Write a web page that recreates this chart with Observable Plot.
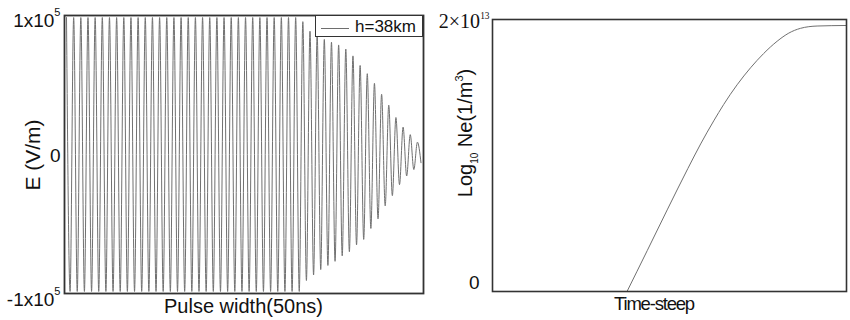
<!DOCTYPE html>
<html>
<head>
<meta charset="utf-8">
<script src="https://cdn.jsdelivr.net/npm/d3@7"></script>
<script src="https://cdn.jsdelivr.net/npm/@observablehq/plot@0.6"></script>
<style>
  body { margin: 0; background: #fff; }
  #wrap { position: relative; width: 850px; height: 320px; overflow: hidden; background: #fff;
          font-family: 'Liberation Sans', Arial, Helvetica, sans-serif; color: #111; }
  #left, #right { position: absolute; top: 0; }
  #left { left: 0; }
  #right { left: 440px; }
  #legend { position: absolute; left: 315px; top: 15px; width: 108px; height: 22px; box-sizing: border-box;
            border: 1.5px solid #333; background: #fff; }
  #legend .sw { position: absolute; left: 5px; top: 12px; width: 28px; border-top: 1px solid #6e6e6e; }
  #legend .lb { position: absolute; left: 39px; top: 1px; font-size: 17px; line-height: normal; color: #111; }
</style>
</head>
<body>
<div id="wrap">
  <div id="left"></div>
  <div id="right"></div>
  <div id="legend"><span class="sw"></span><span class="lb" id="legendText"></span></div>
</div>
<script>
const fontSans = "'Liberation Sans', Arial, Helvetica, sans-serif";
const fontSerif = "'Liberation Serif', 'Times New Roman', Times, serif";

// ---------- Left panel: E field (units of 1e5 V/m) at successive half-cycle extrema ----------
const fieldExtrema = [
  1, -1, 1, -1, 1, -1, 1, -1, 1, -1,
  1, -1, 1, -1, 1, -1, 1, -1, 1, -1,
  1, -1, 1, -1, 1, -1, 1, -1, 1, -1,
  1, -1, 1, -1, 1, -1, 1, -1, 1, -1,
  1, -1, 1, -1, 1, -1, 1, -1, 1, -1,
  1, -1, 1, -1, 1, -1, 1, -1, 1, -1,
  1, -1, 1, -1, 1, -1,
  0.97, -0.92, 0.90, -0.88, 0.87, -0.84, 0.84, -0.81, 0.82, -0.78,
  0.80, -0.74, 0.77, -0.71, 0.72, -0.66, 0.65, -0.62, 0.59, -0.54,
  0.52, -0.47, 0.44, -0.375, 0.36, -0.30, 0.27, -0.22, 0.20, -0.157,
  0.145, -0.11, 0.09, -0.06
];
const fieldUnit = 1e5;
const fieldTicks = [1e5, 0, -1e5];
const fieldTickLabels = ["1x10^{5}", "0", "-1x10^{5}"];
const legendLabel = "h=38km";
const leftXLabel = "Pulse width(50ns)";
const leftYLabel = "E (V/m)";

// ---------- Right panel: electron density growth (units of 1e13 1/m^3) ----------
const timeStep = [38.0, 43.7, 49.35, 55.2, 58.8, 62.5, 65.3, 69.1, 72.9, 76.6, 80.4, 83.7, 87.0, 91.7, 100];
const neValues = [0, 0.30, 0.60, 0.905, 1.085, 1.255, 1.375, 1.52, 1.645, 1.75, 1.84, 1.90, 1.935, 1.952, 1.956];
const neUnit = 1e13;
const neTicks = [2e13, 0];
const neTickLabels = ["2×10^{13}", "0"];
const rightXLabel = "Time-steep";
const rightYLabel = "Log_{10} Ne(1/m^{3})";

// ---------- helpers ----------
function rich(el, s, opt = {}) {
  const fs = parseFloat(getComputedStyle(el).fontSize);
  const parts = s.split(/([\^_]\{[^}]*\})/).filter(p => p.length);
  const sel = d3.select(el);
  sel.text(null);
  let shift = 0;
  for (const p of parts) {
    const m = p.match(/^([\^_])\{(.*)\}$/);
    const ts = sel.append("tspan");
    if (m) {
      const up = m[1] === "^";
      const target = up ? -(opt.supRaise ?? 0.5) * fs : (opt.subDrop ?? 0.3) * fs;
      ts.attr("dy", (target - shift).toFixed(2)).style("font-size", ((up ? (opt.supScale ?? 0.58) : (opt.subScale ?? 0.55)) * fs) + "px").text(m[2]);
      shift = target;
    } else {
      if (shift !== 0) ts.attr("dy", (-shift).toFixed(2));
      shift = 0;
      ts.text(p);
    }
  }
}
function styleTexts(svg, specs) {
  d3.select(svg).selectAll("text").each(function () {
    const spec = specs[this.textContent];
    if (!spec) return;
    const el = d3.select(this);
    if (spec.font) el.style("font-family", spec.font);
    if (spec.size) el.style("font-size", spec.size + "px");
    rich(this, this.textContent, spec);
  });
}

// ---------- Left plot ----------
const fieldData = fieldExtrema.map((v, i) => ({halfCycle: i, E: v * fieldUnit}));
const leftPlot = Plot.plot({
  width: 440, height: 320,
  marginLeft: 64, marginRight: 17, marginTop: 15, marginBottom: 27,
  x: {domain: [-0.56, 99.7], axis: null},
  y: {domain: [-1.015e5, 1.015e5], axis: null},
  style: {fontFamily: fontSans, fontSize: "19px", color: "#111", background: "transparent", overflow: "visible"},
  marks: [
    Plot.line(fieldData, {x: "halfCycle", y: "E", stroke: "#707070", strokeWidth: 1, curve: "monotone-x"}),
    Plot.frame({stroke: "#333", strokeWidth: 1.8}),
    Plot.axisY({ticks: [fieldTicks[0]], label: null, tickSize: 0, tickPadding: 4, tickFormat: () => fieldTickLabels[0], dy: 3.4}),
    Plot.axisY({ticks: [fieldTicks[1]], label: null, tickSize: 0, tickPadding: 4, tickFormat: () => fieldTickLabels[1], dy: 1}),
    Plot.axisY({ticks: [fieldTicks[2]], label: null, tickSize: 0, tickPadding: 4, tickFormat: () => fieldTickLabels[2], dy: 8.8})
  ]
});
document.getElementById("left").appendChild(leftPlot);
styleTexts(leftPlot, {
  "1x10^{5}": {supRaise: 0.6, supScale: 0.58},
  "-1x10^{5}": {supRaise: 0.6, supScale: 0.58}
});
{
  const svg = d3.select(leftPlot);
  svg.append("text").attr("transform", "translate(40,155) rotate(-90)")
    .attr("text-anchor", "middle").style("font-size", "21px").attr("fill", "#111").text(leftYLabel);
  svg.append("text").attr("x", 243.5).attr("y", 312.5)
    .attr("text-anchor", "middle").style("font-size", "20px").attr("fill", "#111").text(leftXLabel);
}
document.getElementById("legendText").textContent = legendLabel;

// ---------- Right plot ----------
const neData = timeStep.map((t, i) => ({t, ne: neValues[i] * neUnit}));
const rightPlot = Plot.plot({
  width: 410, height: 320,
  marginLeft: 52, marginRight: 4, marginTop: 19, marginBottom: 29,
  x: {domain: [0, 100], axis: null},
  y: {domain: [0, 2e13], axis: null},
  style: {fontFamily: fontSans, fontSize: "19px", color: "#111", background: "transparent", overflow: "visible"},
  marks: [
    Plot.line(neData, {x: "t", y: "ne", stroke: "#707070", strokeWidth: 1, curve: "monotone-x"}),
    Plot.frame({stroke: "#333", strokeWidth: 1.6}),
    Plot.axisY({ticks: [neTicks[0]], label: null, tickSize: 0, tickPadding: 3, tickFormat: () => neTickLabels[0], dy: 2}),
    Plot.axisY({ticks: [neTicks[1]], label: null, tickSize: 0, tickPadding: 13, tickFormat: () => neTickLabels[1], dy: -8.7})
  ]
});
document.getElementById("right").appendChild(rightPlot);
styleTexts(rightPlot, {
  "2×10^{13}": {font: fontSerif, size: 20, supRaise: 0.45, supScale: 0.47}
});
{
  const svg = d3.select(rightPlot);
  const yl = svg.append("text").attr("transform", "translate(31.5,133) rotate(-90)")
    .attr("text-anchor", "middle").style("font-size", "20px").attr("fill", "#111");
  rich(yl.node(), rightYLabel, {subDrop: 0.3, subScale: 0.5, supRaise: 0.45, supScale: 0.55});
  svg.append("text").attr("x", 214).attr("y", 310)
    .attr("text-anchor", "middle").style("font-size", "18.5px").style("letter-spacing", "-1.2px")
    .attr("fill", "#111").text(rightXLabel);
}
</script>
</body>
</html>
